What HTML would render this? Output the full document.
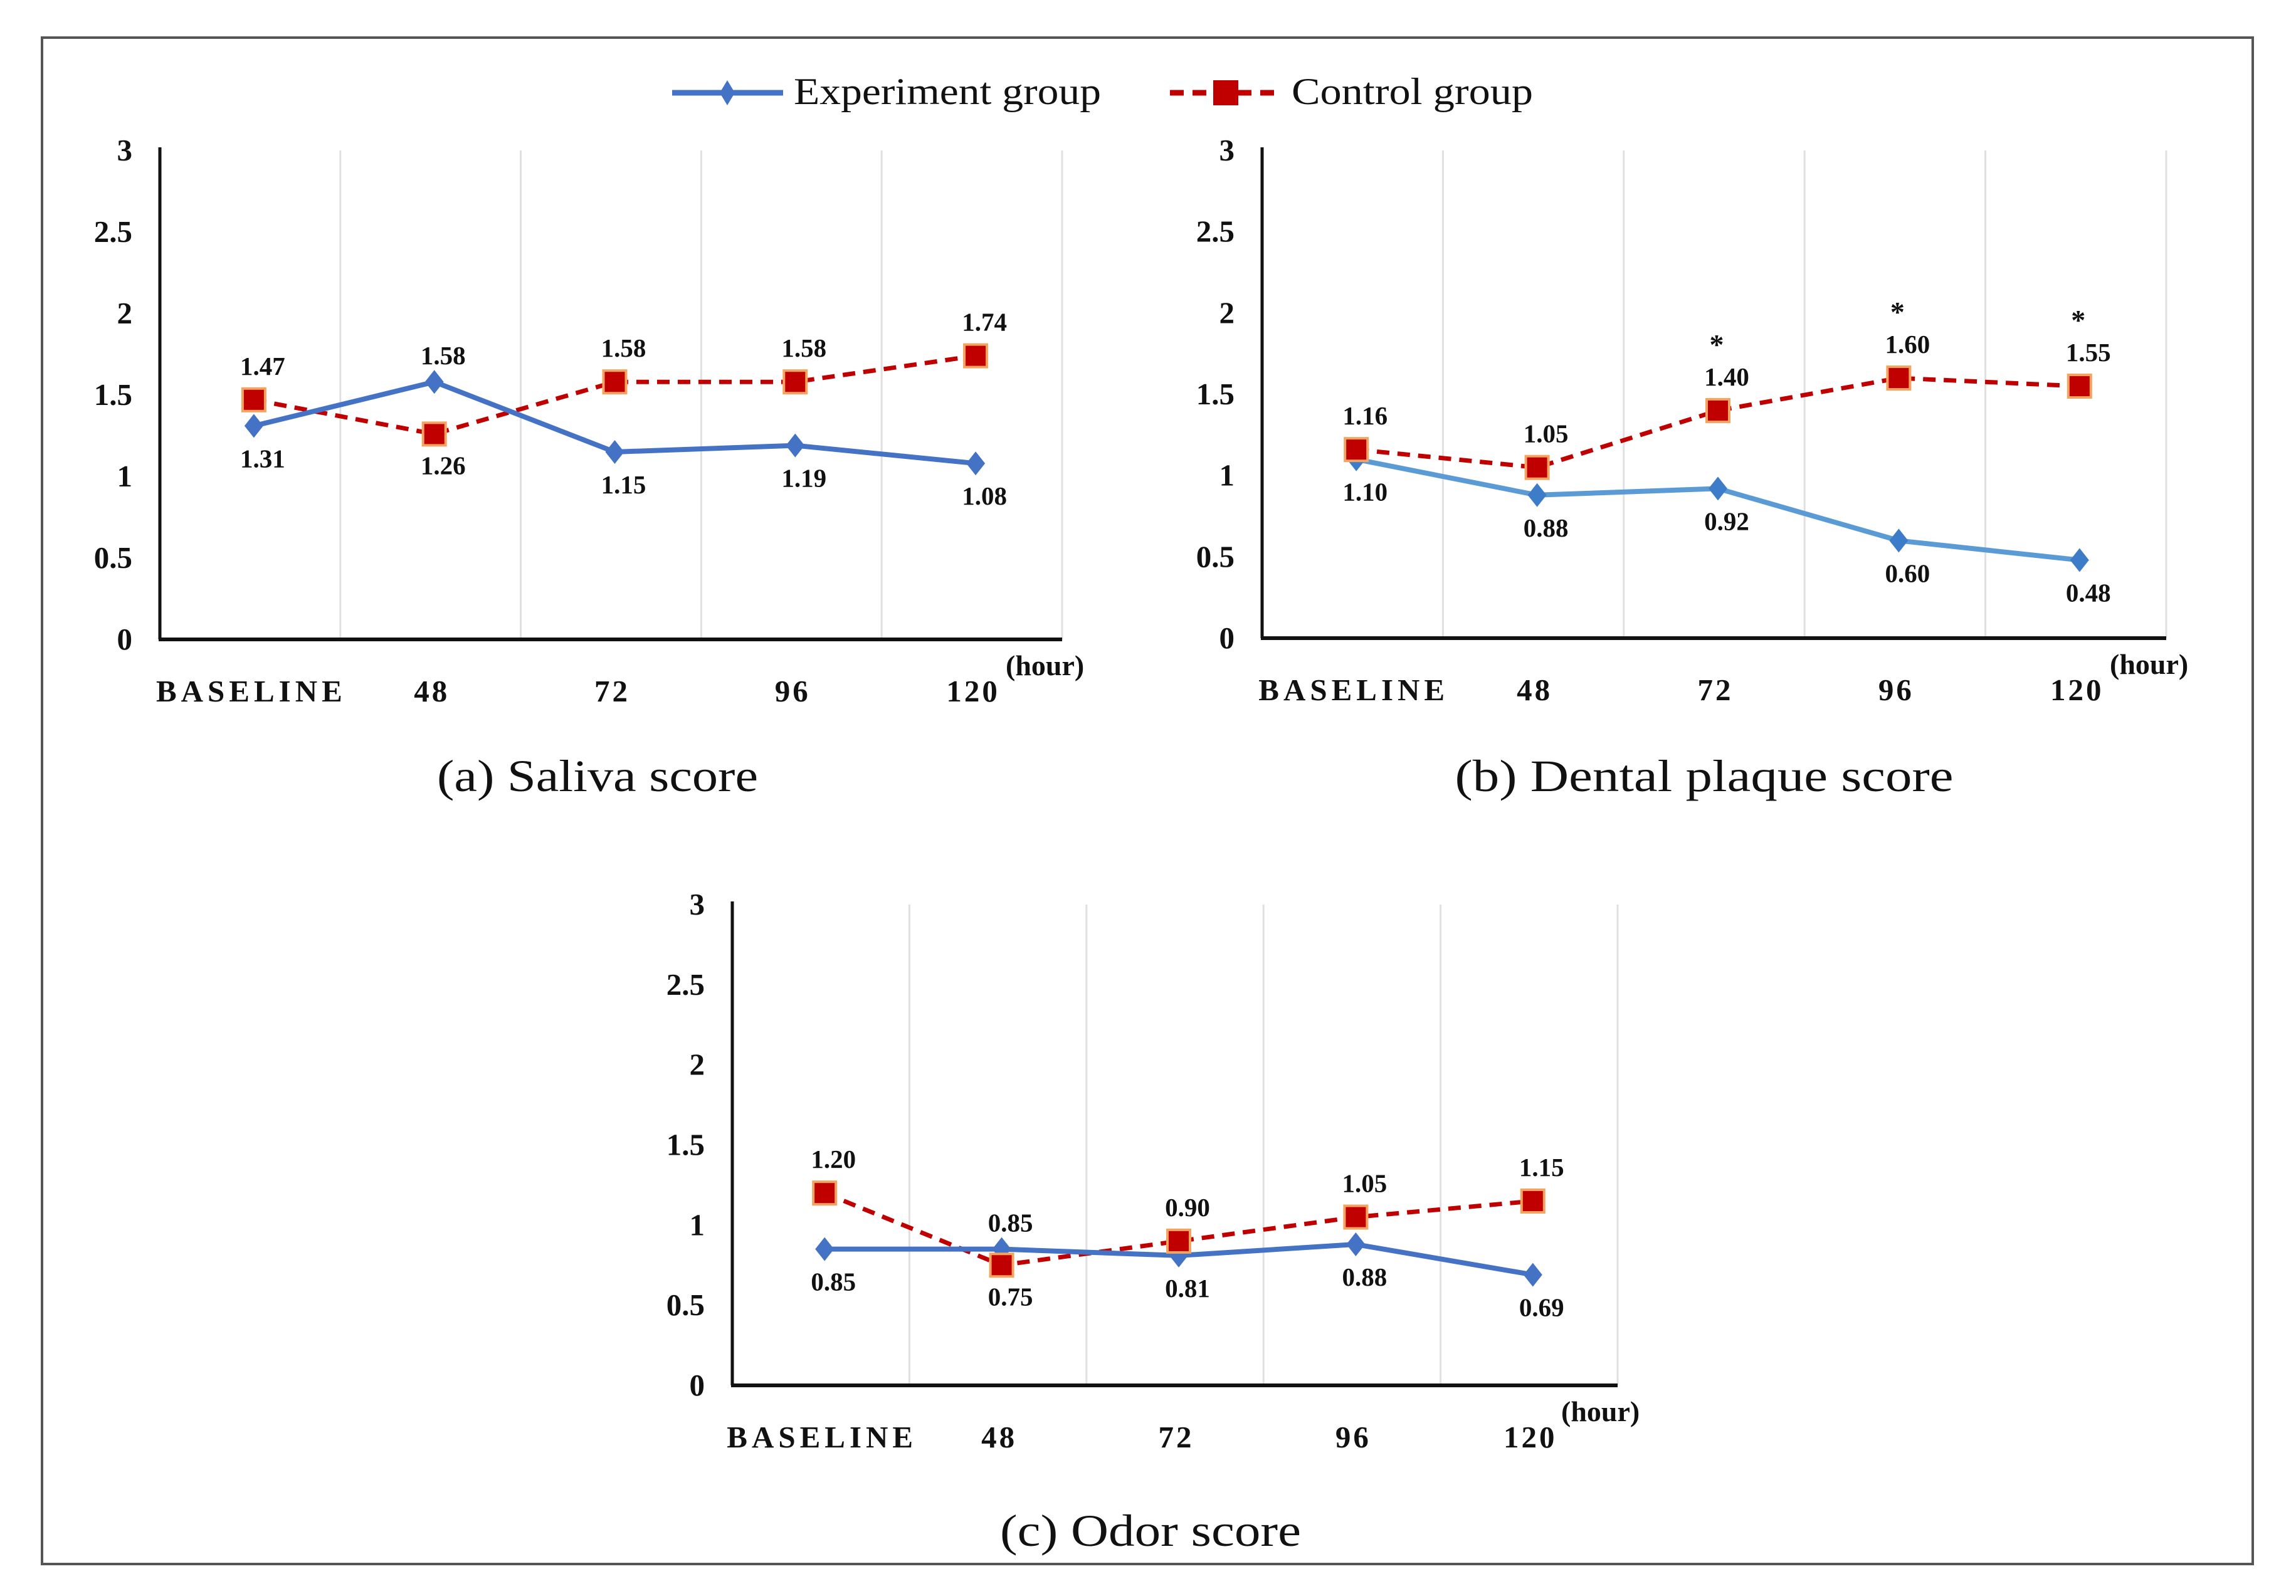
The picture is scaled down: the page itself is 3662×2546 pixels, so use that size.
<!DOCTYPE html>
<html><head><meta charset="utf-8"><style>
html,body{margin:0;padding:0;background:#fff;}
svg text{font-family:"Liberation Serif",serif;}
</style></head><body>
<svg id="fig" xmlns="http://www.w3.org/2000/svg" width="3662" height="2541" viewBox="0 0 3662 2541">
<rect x="67" y="60" width="3526" height="2435" fill="#fff" stroke="#555" stroke-width="4"/>
<g>
  <g>
    <line x1="1072" y1="148" x2="1249" y2="148" stroke="#4472c4" stroke-width="9"/>
    <polygon points="1160,128 1172,148 1160,168 1148,148" fill="#4472c4"/>
    <text x="1266" y="166" font-size="60" textLength="490" lengthAdjust="spacingAndGlyphs" fill="#111">Experiment group</text>
  </g>
  <g>
    <line x1="1866" y1="148" x2="2041" y2="148" stroke="#c00000" stroke-width="9" stroke-dasharray="22,14"/>
    <rect x="1935" y="128" width="40" height="40" fill="#c00000"/>
    <text x="2060" y="166" font-size="60" textLength="385" lengthAdjust="spacingAndGlyphs" fill="#111">Control group</text>
  </g>
</g>
<g id="charts"></g>
</svg>
<script>
const categories = ["BASELINE","48","72","96","120"];
const yTicks = [0,0.5,1,1.5,2,2.5,3];
const yTickLabels = ["0","0.5","1","1.5","2","2.5","3"];

const salivaExperiment = [1.31,1.58,1.15,1.19,1.08];
const salivaControl = [1.47,1.26,1.58,1.58,1.74];
const salivaExpLabelPos = ["below","above","below","below","below"];
const salivaCtlLabelPos = ["above","below","above","above","above"];

const plaqueExperiment = [1.10,0.88,0.92,0.60,0.48];
const plaqueControl = [1.16,1.05,1.40,1.60,1.55];
const plaqueExpLabelPos = ["below","below","below","below","below"];
const plaqueCtlLabelPos = ["above","above","above","above","above"];
const plaqueSignificant = [false,false,true,true,true];

const odorExperiment = [0.85,0.85,0.81,0.88,0.69];
const odorControl = [1.20,0.75,0.90,1.05,1.15];
const odorExpLabelPos = ["below","above","below","below","below"];
const odorCtlLabelPos = ["above","below","above","above","above"];

const NS="http://www.w3.org/2000/svg";
function mk(tag, attrs, parent){const e=document.createElementNS(NS,tag);for(const k in attrs)e.setAttribute(k,attrs[k]);parent.appendChild(e);return e;}

function drawChart(o){
  const root=document.getElementById('charts');
  const g=mk('g',{},root);
  
  
  const band=(o.x1-o.x0)/categories.length;
  const xs=i=>o.x0+band*(i+0.5)+6;
  const ys=v=>o.y0-(v/3)*(o.y0-o.yTop);
  for(let i=1;i<=categories.length;i++){
    const gl=mk('line',{x1:o.x0+band*i,x2:o.x0+band*i,y1:o.yTop,y2:o.y0,stroke:'#e0e0e0','stroke-width':3},g);
    
    
  }
  const ya=mk('line',{x1:o.x0,x2:o.x0,y1:o.yTop-5,y2:o.y0,stroke:'#111','stroke-width':5},g);
  
  
  const xa=mk('line',{x1:o.x0-2,x2:o.x1,y1:o.y0,y2:o.y0,stroke:'#111','stroke-width':6},g);
  
  
  yTicks.forEach((t,i)=>{
    const tx=mk('text',{x:o.x0-44,y:ys(t)+16,'font-size':49,'font-weight':'bold','text-anchor':'end',fill:'#111'},g);
    tx.textContent=yTickLabels[i];
    
    
  });
  categories.forEach((c,i)=>{
    const tx=mk('text',{x:xs(i)-4,y:o.y0+99,'font-size':49,'font-weight':'bold','text-anchor':'middle',fill:'#111','letter-spacing':c==="BASELINE"?7:4},g);
    tx.textContent=c;
    
    
  });
  const hr=mk('text',{x:o.x1-90,y:o.y0+57,'font-size':46,'font-weight':'bold',fill:'#111'},g);
  hr.textContent="(hour)";
  
  
  const cap=mk('text',{x:o.capX,y:o.capY,'font-size':72,'text-anchor':'middle',fill:'#111',textLength:o.capW,lengthAdjust:'spacingAndGlyphs'},g);
  cap.textContent=o.caption;
  
  
  const cp=o.ctl.map((v,i)=>xs(i)+','+ys(v)).join(' ');
  const cl=mk('polyline',{points:cp,fill:'none',stroke:'#c00000','stroke-width':7,'stroke-dasharray':'20,13'},g);
  
  
  const ep=o.exp.map((v,i)=>xs(i)+','+ys(v)).join(' ');
  const el=mk('polyline',{points:ep,fill:'none',stroke:o.expColor,'stroke-width':8},g);
  
  
  o.exp.forEach((v,i)=>{
    const x=xs(i),y=ys(v);
    const m=mk('polygon',{points:`${x},${y-19} ${x+15},${y} ${x},${y+19} ${x-15},${y}`,fill:o.expMarker},g);
    
    
  });
  o.ctl.forEach((v,i)=>{
    const x=xs(i),y=ys(v);
    const m=mk('rect',{x:x-18,y:y-18,width:36,height:36,fill:'#c00000',stroke:'#f4a460','stroke-width':4},g);
    
    
  });
  o.exp.forEach((v,i)=>{
    const y=ys(v)+(o.expPos[i]==='above'?-28:66);
    const t=mk('text',{x:xs(i)+14,y:y,'font-size':41,'font-weight':'bold','text-anchor':'middle',fill:'#111'},g);
    t.textContent=v.toFixed(2);
    
    
  });
  o.ctl.forEach((v,i)=>{
    const y=ys(v)+(o.ctlPos[i]==='above'?-40:64);
    const t=mk('text',{x:xs(i)+14,y:y,'font-size':41,'font-weight':'bold','text-anchor':'middle',fill:'#111'},g);
    t.textContent=v.toFixed(2);
    
    
    if(o.sig && o.sig[i]){
      const s=mk('text',{x:xs(i)-2,y:y-50,'font-size':46,'font-weight':'bold','text-anchor':'middle',fill:'#111'},g);
      s.textContent="*";
      
      
    }
  });
}

drawChart({name:'chart-saliva',x0:255,x1:1694,y0:1020,yTop:240,exp:salivaExperiment,ctl:salivaControl,expPos:salivaExpLabelPos,ctlPos:salivaCtlLabelPos,expColor:'#4472c4',expMarker:'#4472c4',caption:'(a) Saliva score',capX:953,capY:1262,capW:512});
drawChart({name:'chart-dental-plaque',x0:2013,x1:3455,y0:1018,yTop:240,exp:plaqueExperiment,ctl:plaqueControl,expPos:plaqueExpLabelPos,ctlPos:plaqueCtlLabelPos,sig:plaqueSignificant,expColor:'#5b9bd5',expMarker:'#3d7cc9',caption:'(b) Dental plaque score',capX:2718,capY:1262,capW:795});
drawChart({name:'chart-odor',x0:1168,x1:2580,y0:2210,yTop:1443,exp:odorExperiment,ctl:odorControl,expPos:odorExpLabelPos,ctlPos:odorCtlLabelPos,expColor:'#4472c4',expMarker:'#4472c4',caption:'(c) Odor score',capX:1835,capY:2466,capW:480});
</script>
</body></html>
